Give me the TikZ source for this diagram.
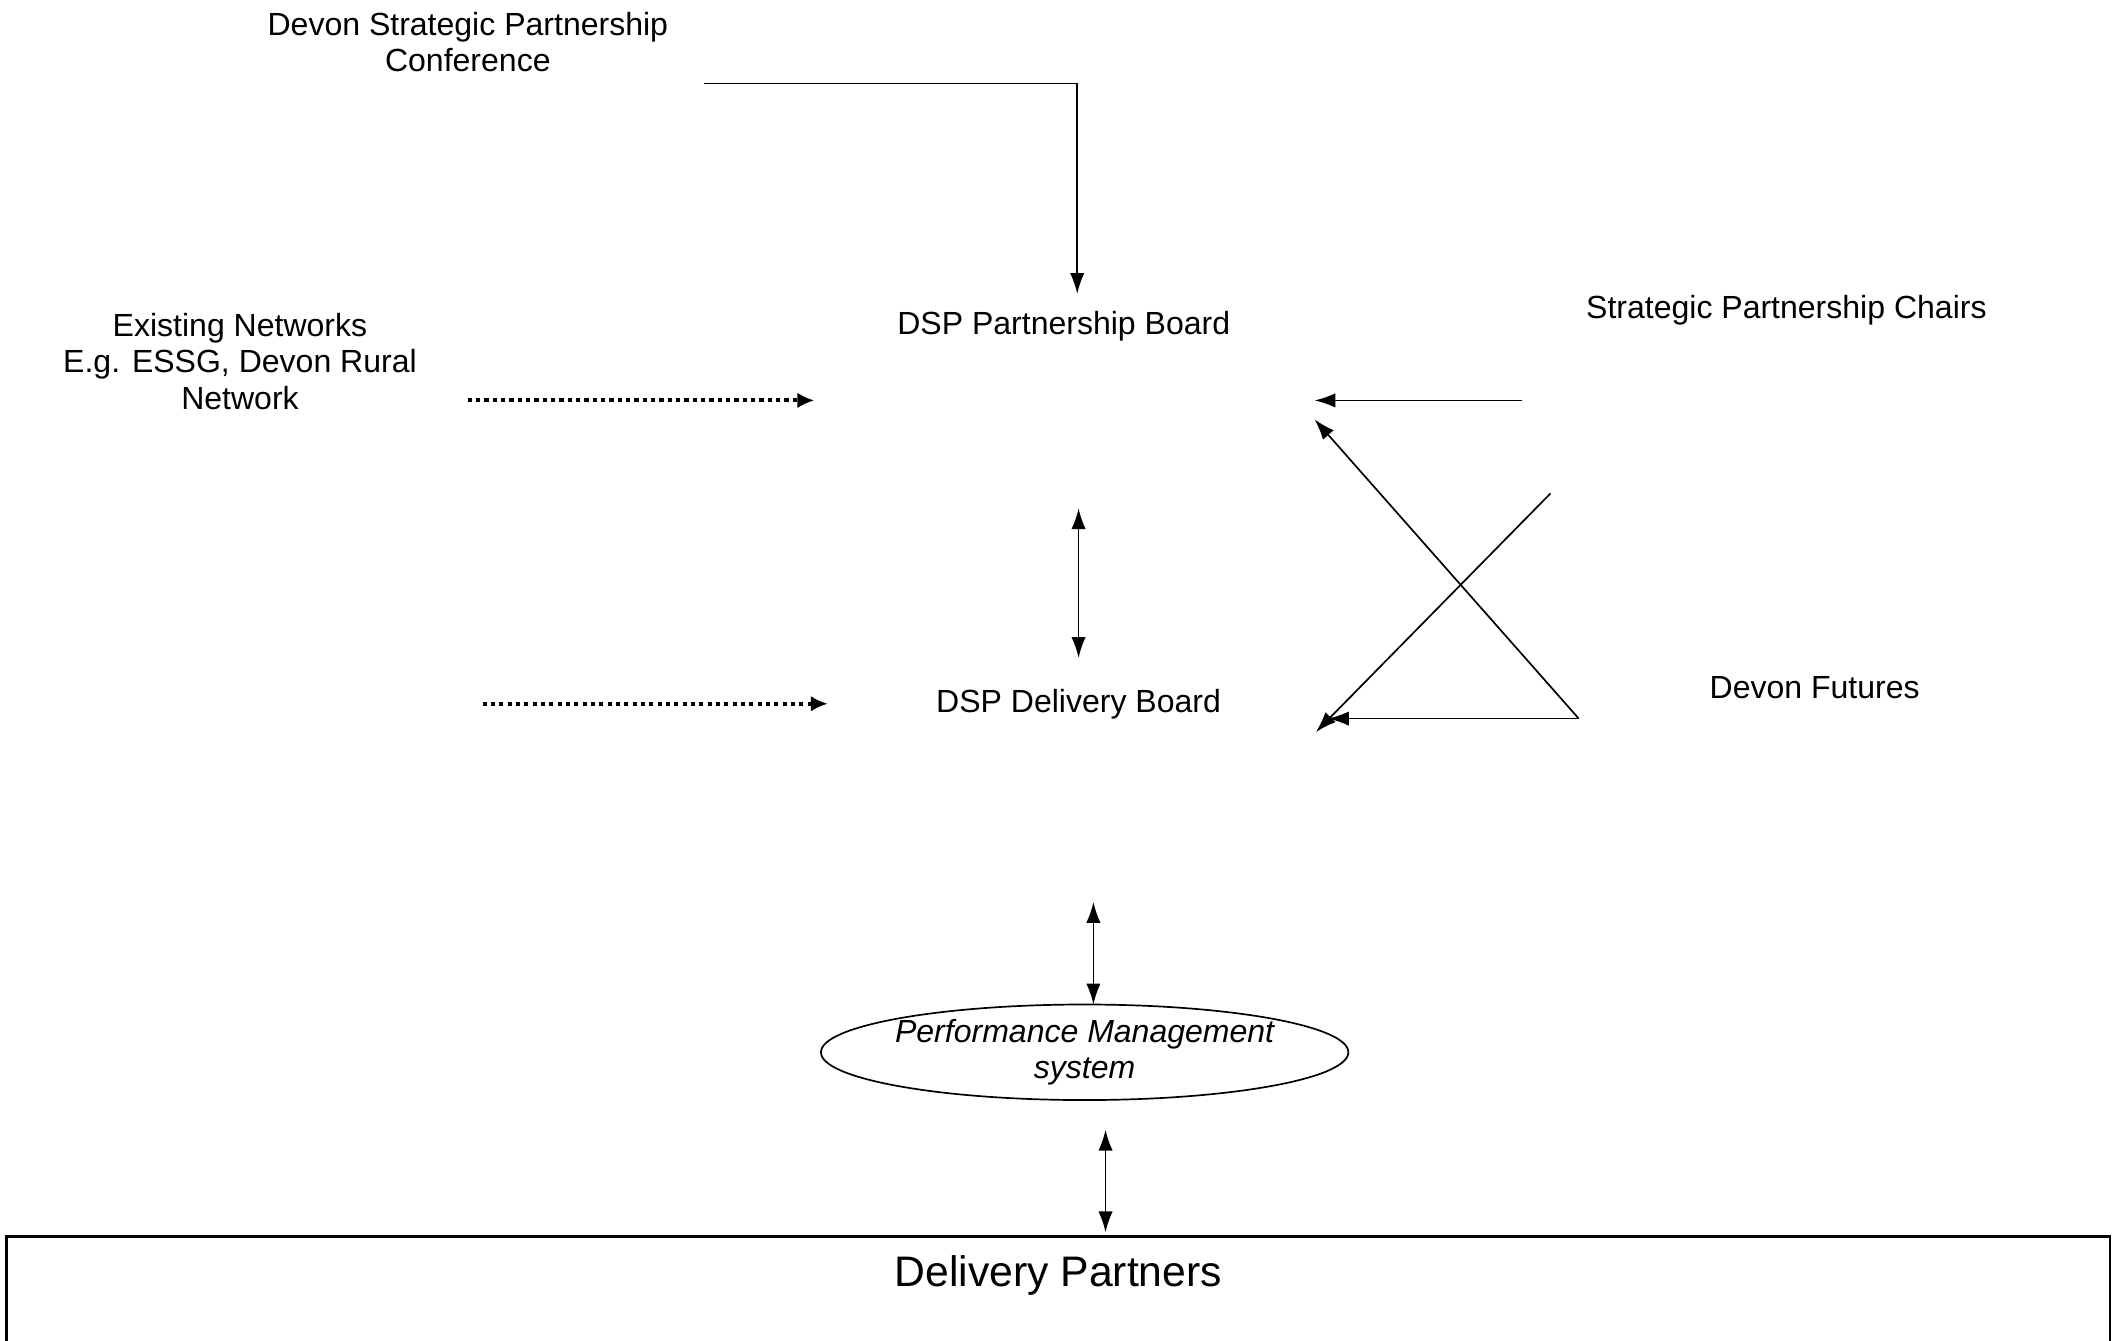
\documentclass[tikz,border=0pt]{standalone}
\usepackage{fontspec}
\setmainfont{Liberation Sans}
\usepackage{tikz}
\usetikzlibrary{arrows.meta}
\usetikzlibrary{shapes.geometric}

\tikzset{
  schrift/.style={align=center, font=\fontsize{12.3}{14}\selectfont, inner sep=1pt},
  pfeil/.style={-{Latex[length=8pt,width=5.5pt]}, line width=0.65pt},
  doppel/.style={{Latex[length=8pt,width=5.5pt]}-{Latex[length=8pt,width=5.5pt]}, line width=0.65pt},
  punkte/.style={-{Latex[length=6.5pt,width=6pt]}, line width=1.6pt, dash pattern=on 1.6pt off 1.6pt}
}

\begin{document}
\begin{tikzpicture}[x=0.182mm, y=-0.182mm] % y-Achse nach unten
    % Rahmen der Zeichnung
    \useasboundingbox (0,0) rectangle (1568,994);
    % Beschriftungen
    \node[schrift] (conference) at (347,31) {Devon Strategic Partnership\\Conference};
    \node[schrift] (pboard) at (789,242) {DSP Partnership Board};
    \node[schrift] (networks) at (178,268) {Existing Networks\\E.g. ESSG, Devon Rural\\Network};
    \node[schrift] (chairs) at (1325,230) {Strategic Partnership Chairs};
    \node[schrift] (dboard) at (800,522) {DSP Delivery Board};
    \node[schrift] (futures) at (1346,510) {Devon Futures};
    % Ellipse und Kasten unten
    \node[ellipse, draw, line width=0.65pt, schrift, font=\fontsize{12.3}{14}\selectfont\itshape,
          inner sep=-1mm, minimum width=71.2mm, minimum height=12.9mm] (pms) at (804.5,780.5) {Performance Management\\system};
    \draw[line width=1pt] (5,917) rectangle (1565,1060);
    \node[font=\fontsize{16.4}{19}\selectfont] (partners) at (785,946) {Delivery Partners};
    % Endpunkte der Pfeile
    \coordinate (k1) at (522,62);
    \coordinate (k2) at (799,62);
    \coordinate (k3) at (799,218);
    \coordinate (n1) at (347,297);
    \coordinate (n2) at (604,297);
    \coordinate (n3) at (358,522);
    \coordinate (n4) at (614,522);
    \coordinate (s1) at (1129,297);
    \coordinate (s2) at (975,297);
    \coordinate (f0) at (1171,533);
    \coordinate (f1) at (975,311);
    \coordinate (f2) at (985,533);
    \coordinate (f3) at (1150,366);
    \coordinate (f4) at (976,543);
    % Pfeile zeichnen
    \draw[pfeil] (k1) -- (k2) -- (k3);
    \draw[punkte] (n1) -- (n2);
    \draw[punkte] (n3) -- (n4);
    \draw[pfeil] (s1) -- (s2);
    \draw[pfeil] (f0) -- (f1);
    \draw[pfeil] (f0) -- (f2);
    \draw[pfeil] (f3) -- (f4);
    % senkrechte Doppelpfeile
    \foreach \n/\x/\ya/\yb in {1/800/377/488, 2/811/669/745, 3/820/838/914} {
        \coordinate (d\n a) at (\x,\ya);
        \coordinate (d\n b) at (\x,\yb);
        \draw[doppel] (d\n a) -- (d\n b);
    }
\end{tikzpicture}
\end{document}
